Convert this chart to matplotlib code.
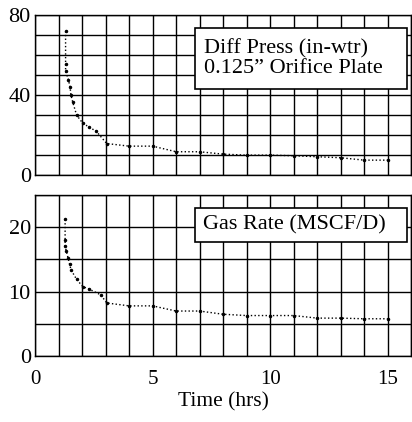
import numpy as np
import matplotlib
matplotlib.use("Agg")
from matplotlib import pyplot as plt
from matplotlib.patches import Rectangle
from matplotlib.ticker import MultipleLocator

# data
t_dp = [1.3, 1.3, 1.3, 1.42, 1.49, 1.53, 1.6, 1.77, 2.03, 2.3, 2.6, 3.05,
        4, 5, 6, 7, 8, 9, 10, 11, 12, 13, 14, 15]
diff_press = [72, 55.8, 52, 47.8, 44, 40, 36.7, 30, 26, 24, 22, 15.8,
              14.5, 14.5, 11.7, 11.7, 10.5, 10, 10, 9.7, 9.2, 8.7, 7.5, 7.5]

t_gas = [1.28, 1.28, 1.28, 1.33, 1.4, 1.47, 1.53, 1.77, 2.03, 2.3, 2.8, 3.05,
         4, 5, 6, 7, 8, 9, 10, 11, 12, 13, 14, 15]
gas_rate = [21.2, 18.0, 17.1, 16.3, 15.3, 14.3, 13.4, 11.9, 10.8, 10.4, 9.5, 8.25,
            7.8, 7.8, 7.0, 7.0, 6.5, 6.3, 6.3, 6.3, 5.9, 5.9, 5.8, 5.8]

x_ticks = [0, 5, 10, 15]
dp_ticks = [0, 40, 80]
gas_ticks = [0, 10, 20]

plt.rcParams['font.family'] = ['Liberation Serif', 'DejaVu Serif']

fig = plt.figure(figsize=(4.12, 4.22), dpi=100)
ax1 = fig.add_axes([0.085, 0.585, 0.913, 0.379])
ax2 = fig.add_axes([0.085, 0.156, 0.913, 0.382])


def style_axis(ax, ymax, yticks, ystep):
    ax.set_xlim(0, 16)
    ax.set_ylim(0, ymax)
    ax.xaxis.set_major_locator(MultipleLocator(1))
    levels = np.arange(0, ymax + 0.1, ystep).astype(int)
    ax.set_yticks(levels)
    ax.set_yticklabels([str(v) if v in yticks else '' for v in levels])
    ax.grid(True, color='black', lw=1.0)
    ax.set_axisbelow(True)
    ax.tick_params(length=0, labelsize=16, pad=3)
    for s in ax.spines.values():
        s.set_color('black')
        s.set_linewidth(1.0)


style_axis(ax1, 80, dp_ticks, 10)
style_axis(ax2, 25, gas_ticks, 5)

ax1.set_xticklabels([])
ax2.set_xticks(range(0, 17))
ax2.set_xticklabels([str(v) if v in x_ticks else '' for v in range(0, 17)])
ax2.tick_params(axis='x', pad=10, labelsize=15)
ax2.set_xlabel('Time (hrs)', fontsize=15.5, labelpad=2)

ax1.plot(t_dp, diff_press, color='black', ls=':', lw=1.0, marker='.', ms=3)
ax2.plot(t_gas, gas_rate, color='black', ls=':', lw=1.0, marker='.', ms=3)

# label boxes
ax1.add_patch(Rectangle((0.426, 0.5375), 0.563, 0.3815, transform=ax1.transAxes,
                        facecolor='white', edgecolor='black', lw=1.2, zorder=5))
ax1.text(0.449, 0.728, 'Diff Press (in-wtr)\n0.125\u201d Orifice Plate', transform=ax1.transAxes,
         ha='left', va='center', fontsize=16, linespacing=1.05, zorder=6)

ax2.add_patch(Rectangle((0.424, 0.708), 0.565, 0.211, transform=ax2.transAxes,
                        facecolor='white', edgecolor='black', lw=1.2, zorder=5))
ax2.text(0.447, 0.8135, 'Gas Rate (MSCF/D)', transform=ax2.transAxes,
         ha='left', va='center', fontsize=16, zorder=6)

fig.savefig('out.png', dpi=100)
